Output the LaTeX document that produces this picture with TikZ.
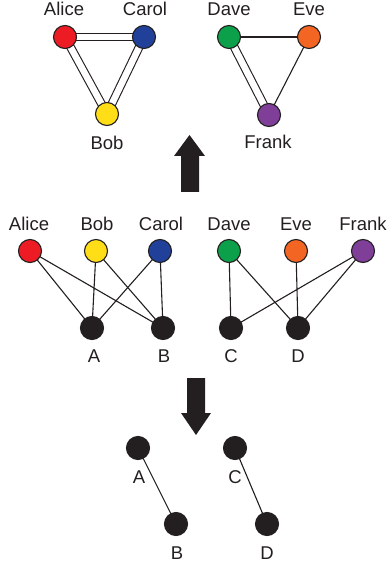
\documentclass[tikz,border=0pt]{standalone}
\usepackage{fontspec}
\setmainfont{Liberation Sans}
\definecolor{cred}{RGB}{237,28,36}
\definecolor{cyel}{RGB}{255,222,23}
\definecolor{cblu}{RGB}{33,64,154}
\definecolor{cgrn}{RGB}{13,160,75}
\definecolor{corg}{RGB}{242,101,34}
\definecolor{cpur}{RGB}{127,63,152}
\definecolor{cblk}{RGB}{35,31,32}
\begin{document}
\begin{tikzpicture}[x=1pt,y=-1pt,
  pt/.style={circle,draw=cblk,line width=1.1pt,minimum size=23pt,inner sep=0pt},
  lab/.style={anchor=base,inner sep=0pt,font=\fontsize{18.5}{22}\selectfont,text=cblk},
  edge/.style={draw=cblk,line width=1.1pt},
  dbl/.style={draw=cblk,line width=1.1pt,double=white,double distance=6.5pt},
  bigarrow/.style={fill=cblk,draw=none}]
\useasboundingbox (0,0) rectangle (386,569);
% ---------- top graphs ----------
\coordinate (tA) at (65,37);
\coordinate (tC) at (144,37);
\coordinate (tB) at (107,114);
\coordinate (tD) at (229,37);
\coordinate (tE) at (309,37);
\coordinate (tF) at (269,115);
\draw[dbl] (tA) -- (tC);
\draw[dbl] (tA) -- (tB);
\draw[dbl] (tC) -- (tB);
\draw[edge] (tD) -- (tE);
\draw[dbl] (tD) -- (tF);
\draw[edge] (tE) -- (tF);
\node[pt,fill=cred] (nA) at (tA) {};
\node[pt,fill=cblu] (nC) at (tC) {};
\node[pt,fill=cyel] (nB) at (tB) {};
\node[pt,fill=cgrn] (nD) at (tD) {};
\node[pt,fill=corg] (nE) at (tE) {};
\node[pt,fill=cpur] (nF) at (tF) {};
\node[lab] (lA) at (64,16) {Alice};
\node[lab] (lC) at (145,16) {Carol};
\node[lab] (lB) at (107,150) {Bob};
\node[lab] (lD) at (229,16) {Dave};
\node[lab] (lE) at (309,16) {Eve};
\node[lab] (lF) at (268,149) {Frank};
% up arrow
\path[bigarrow] (181,192) -- (181,156) -- (174,156) -- (189.5,135) -- (205,156) -- (199,156) -- (199,192) -- cycle;
% ---------- middle bipartite ----------
\coordinate (mAl) at (30,251);
\coordinate (mBo) at (96,251);
\coordinate (mCa) at (160,251);
\coordinate (mDa) at (229,251);
\coordinate (mEv) at (296,251);
\coordinate (mFr) at (363,251);
\coordinate (mA) at (92,328);
\coordinate (mB) at (163,328);
\coordinate (mC) at (231,328);
\coordinate (mD) at (298,328);
\draw[edge] (mAl) -- (mA) (mAl) -- (mB) (mBo) -- (mA) (mBo) -- (mB) (mCa) -- (mA) (mCa) -- (mB);
\draw[edge] (mDa) -- (mC) (mDa) -- (mD) (mEv) -- (mD) (mFr) -- (mC) (mFr) -- (mD);
\node[pt,fill=cred] (pAl) at (mAl) {};
\node[pt,fill=cyel] (pBo) at (mBo) {};
\node[pt,fill=cblu] (pCa) at (mCa) {};
\node[pt,fill=cgrn] (pDa) at (mDa) {};
\node[pt,fill=corg] (pEv) at (mEv) {};
\node[pt,fill=cpur] (pFr) at (mFr) {};
\node[pt,fill=cblk] (pA) at (mA) {};
\node[pt,fill=cblk] (pB) at (mB) {};
\node[pt,fill=cblk] (pC) at (mC) {};
\node[pt,fill=cblk] (pD) at (mD) {};
\node[lab] (qAl) at (29,230) {Alice};
\node[lab] (qBo) at (97,230) {Bob};
\node[lab] (qCa) at (161,230) {Carol};
\node[lab] (qDa) at (229,230) {Dave};
\node[lab] (qEv) at (296,230) {Eve};
\node[lab] (qFr) at (363,230) {Frank};
\node[lab] (qA) at (94,362) {A};
\node[lab] (qB) at (164,362) {B};
\node[lab] (qC) at (231,362) {C};
\node[lab] (qD) at (298,362) {D};
% down arrow
\path[bigarrow] (187,378) -- (205,378) -- (205,413) -- (211,413) -- (196,435) -- (181,413) -- (187,413) -- cycle;
% ---------- bottom ----------
\coordinate (bA) at (138,448);
\coordinate (bB) at (176,524);
\coordinate (bC) at (235,448);
\coordinate (bD) at (267,524);
\draw[edge] (bA) -- (bB) (bC) -- (bD);
\node[pt,fill=cblk] (rA) at (bA) {};
\node[pt,fill=cblk] (rB) at (bB) {};
\node[pt,fill=cblk] (rC) at (bC) {};
\node[pt,fill=cblk] (rD) at (bD) {};
\node[lab] (sA) at (139,483) {A};
\node[lab] (sB) at (177,559) {B};
\node[lab] (sC) at (235,483) {C};
\node[lab] (sD) at (267,559) {D};
\end{tikzpicture}
\end{document}
